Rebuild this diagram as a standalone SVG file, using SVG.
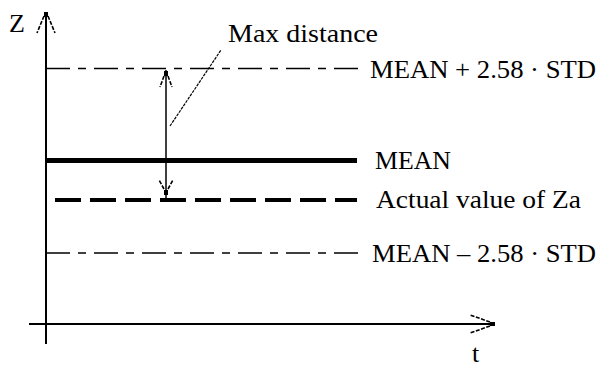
<svg xmlns="http://www.w3.org/2000/svg" width="598" height="369" viewBox="0 0 598 369">
<style>
text{font-family:"Liberation Serif","Times New Roman",serif;font-size:26px;fill:#000}
.ax{stroke:#000;stroke-width:2;fill:none}
.dd{stroke:#000;stroke-width:1.6;fill:none;stroke-dasharray:24 8 8 8}
.chev{stroke:#000;stroke-width:1.6;fill:none;stroke-dasharray:4 1.5}
.tip{fill:#000}
</style>
<rect width="598" height="369" fill="#fff"/>
<g id="axes">
<line class="ax" x1="46" y1="13" x2="46" y2="344"/>
<line class="ax" x1="29" y1="324" x2="494" y2="324"/>
<rect class="tip" x="44" y="12" width="4" height="5"/>
<path class="chev" d="M44 16 L37 33 M48 16 L55 33"/>
<rect class="tip" x="490" y="322" width="5" height="4"/>
<path class="chev" d="M490 322 L470 315 M490 326 L470 333"/>
<text x="9" y="32">Z</text>
<text x="472" y="362">t</text>
</g>
<g id="upper">
<line class="dd" x1="46" y1="68.5" x2="360" y2="68.5"/>
<text x="370" y="78" textLength="226" lengthAdjust="spacingAndGlyphs">MEAN + 2.58 · STD</text>
</g>
<g id="mean">
<line x1="46" y1="160.5" x2="357" y2="160.5" stroke="#000" stroke-width="5"/>
<text x="375" y="169" textLength="76" lengthAdjust="spacingAndGlyphs">MEAN</text>
</g>
<g id="actual">
<line x1="46" y1="200" x2="357" y2="200" stroke="#000" stroke-width="4" stroke-dasharray="26 9" stroke-dashoffset="26"/>
<text x="376" y="208" textLength="205" lengthAdjust="spacingAndGlyphs">Actual value of Za</text>
</g>
<g id="lower">
<line class="dd" x1="46" y1="253" x2="360" y2="253"/>
<text x="372" y="262" textLength="224" lengthAdjust="spacingAndGlyphs">MEAN – 2.58 · STD</text>
</g>
<g id="maxdist">
<text x="228" y="42" textLength="150" lengthAdjust="spacingAndGlyphs">Max distance</text>
</g>
<g id="connectors">
<line x1="166" y1="70" x2="166" y2="199" stroke="#000" stroke-width="1.5"/>
<rect class="tip" x="164" y="71" width="4" height="5"/>
<path class="chev" d="M164 76 L160 87 M168 76 L172 87"/>
<rect class="tip" x="164" y="190" width="4" height="5"/>
<path class="chev" d="M164 189 L159 180 M168 189 L173 180"/>
<line x1="170" y1="126" x2="221" y2="50" stroke="#000" stroke-width="1.2" stroke-dasharray="3 1"/>
</g>
</svg>
